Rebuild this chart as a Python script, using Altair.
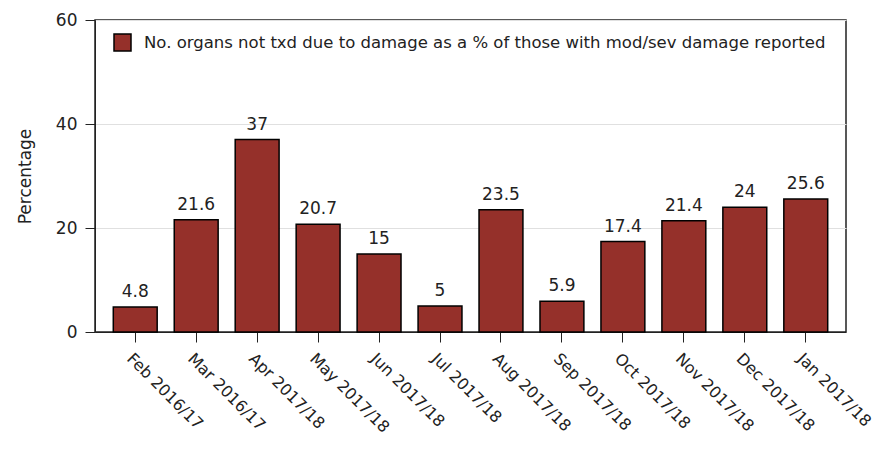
import altair as alt
import pandas as pd

months = ["Feb 2016/17", "Mar 2016/17", "Apr 2017/18", "May 2017/18", "Jun 2017/18",
          "Jul 2017/18", "Aug 2017/18", "Sep 2017/18", "Oct 2017/18", "Nov 2017/18",
          "Dec 2017/18", "Jan 2017/18"]
values = [4.8, 21.6, 37, 20.7, 15, 5, 23.5, 5.9, 17.4, 21.4, 24, 25.6]
series_name = "No. organs not txd due to damage as a % of those with mod/sev damage reported"

df = pd.DataFrame({"month": months, "value": values, "series": [series_name] * len(months)})

FONT = "DejaVu Sans"
BAR = "#95302A"

x = alt.X("month:N", sort=months, title=None,
          scale=alt.Scale(paddingInner=0.28, paddingOuter=0.3),
          axis=alt.Axis(labelAngle=45, labelAlign="left", labelBaseline="top",
                        labelFont=FONT, labelFontSize=16, labelColor="#222",
                        tickSize=10, tickColor="#222", domainColor="#222",
                        labelPadding=8, grid=False, labelLimit=200))
y = alt.Y("value:Q", title="Percentage",
          scale=alt.Scale(domain=[0, 60], nice=False),
          axis=alt.Axis(values=[0, 20, 40, 60], tickSize=10, tickColor="#222",
                        domainColor="#222", labelFont=FONT, labelFontSize=17,
                        labelColor="#222", labelPadding=8, titleFont=FONT,
                        titleFontSize=17, titleFontWeight="normal", titleColor="#222",
                        titlePadding=21, gridColor="#e0e0e0", grid=True))

bars = alt.Chart(df).mark_bar(stroke="black", strokeWidth=1.5).encode(
    x=x, y=y,
    color=alt.Color("series:N", scale=alt.Scale(range=[BAR]),
                    legend=alt.Legend(title=None, orient="none", legendX=18, legendY=13,
                                      symbolType="square", symbolSize=289,
                                      symbolStrokeColor="black", symbolStrokeWidth=1.5,
                                      labelFont=FONT, labelFontSize=16.5, labelColor="#222",
                                      labelLimit=900, labelOffset=12, padding=0))
)

labels = alt.Chart(df).mark_text(baseline="bottom", dy=-6, font=FONT, fontSize=17,
                                 color="#222").encode(
    x=alt.X("month:N", sort=months),
    y=alt.Y("value:Q"),
    text=alt.Text("value:Q")
)

chart = alt.layer(bars, labels).properties(
    width=751, height=312,
    autosize=alt.AutoSizeParams(type="none"),
    padding={"left": 87, "top": 12, "right": 32, "bottom": 115},
).configure_view(stroke="#222", strokeWidth=1.5)

chart.save("out.html", embed_options={"renderer": "svg", "actions": False})
